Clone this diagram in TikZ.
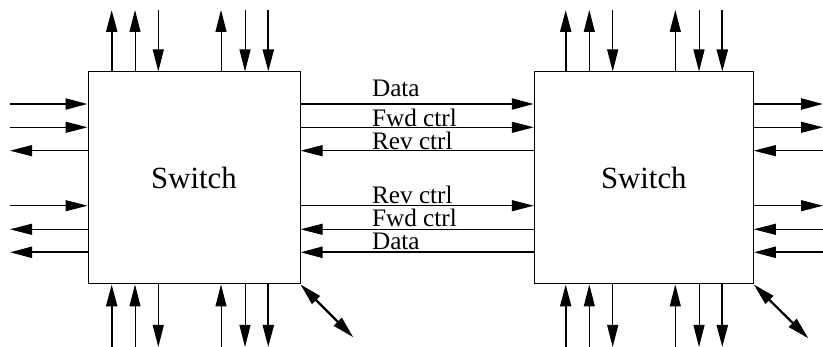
\documentclass[tikz,border=0pt]{standalone}
\usepackage{fontspec}
\setmainfont{Liberation Serif}
\usepackage{tikz}
\usetikzlibrary{arrows.meta,calc}
\tikzset{
  switchbox/.style={rectangle, draw=black, line width=0.5pt, minimum height=106pt,
                    inner sep=0pt, font=\fontsize{15.4}{18}\selectfont},
  wire/.style={line width=0.5pt},
  bus/.style={line width=1.1pt},
  lbl/.style={anchor=base west, inner sep=0pt, font=\fontsize{12.6}{14}\selectfont},
  >={Triangle[length=11pt,width=5.5pt]}
}

\begin{document}
\begin{tikzpicture}[x=0.5pt,y=0.5pt]
\useasboundingbox (0,0) rectangle (823,347);
\node[switchbox, minimum width=106pt] (sw1) at (194,169) {Switch};
\node[switchbox, minimum width=109.5pt] (sw2) at (643.8,169) {Switch};
\foreach \x/\w/\a in {111.7/bus/->, 135/wire/->, 158.3/wire/<-, 221/wire/->, 245/wire/<-, 268.3/bus/<-}{
  \coordinate (top) at (\x,337);
  \coordinate (bot) at (\x,0);
  \draw[\w,\a] (top |- sw1.north) -- (top);
  \draw[\w,\a] (bot) -- (bot |- sw1.south);
}
\foreach \x/\w/\a in {565.7/bus/->, 589.3/wire/->, 612.7/wire/<-, 675.3/wire/->, 699/wire/<-, 722.3/bus/<-}{
  \coordinate (top) at (\x,337);
  \coordinate (bot) at (\x,0);
  \draw[\w,\a] (top |- sw2.north) -- (top);
  \draw[\w,\a] (bot) -- (bot |- sw2.south);
}
\foreach \y/\w/\a in {243/bus/->, 219.7/wire/->, 196.3/wire/<-, 141.3/wire/->, 117.7/wire/<-, 94.7/bus/<-}{
  \coordinate (lft) at (10,\y);
  \coordinate (rgt) at (823,\y);
  \draw[\w,\a] (lft) -- (lft -| sw1.west);
  \draw[\w,\a] (lft -| sw1.east) -- (lft -| sw2.west);
  \draw[\w,\a] (lft -| sw2.east) -- (rgt);
}
\node[lbl] (data1) at (371.7,250.3) {Data};
\node[lbl] (fwd1) at (371.7,220.3) {Fwd ctrl};
\node[lbl] (rev1) at (371.7,197) {Rev ctrl};
\node[lbl] (rev2) at (371.7,143) {Rev ctrl};
\node[lbl] (fwd2) at (371.7,120) {Fwd ctrl};
\node[lbl] (data2) at (371.7,97) {Data};
\coordinate (d1) at (353.3,9.7);
\coordinate (d2) at (808.3,8.7);
\draw[bus,<->] (sw1.south east) -- (d1);
\draw[bus,<->] (sw2.south east) -- (d2);
\end{tikzpicture}
\end{document}
